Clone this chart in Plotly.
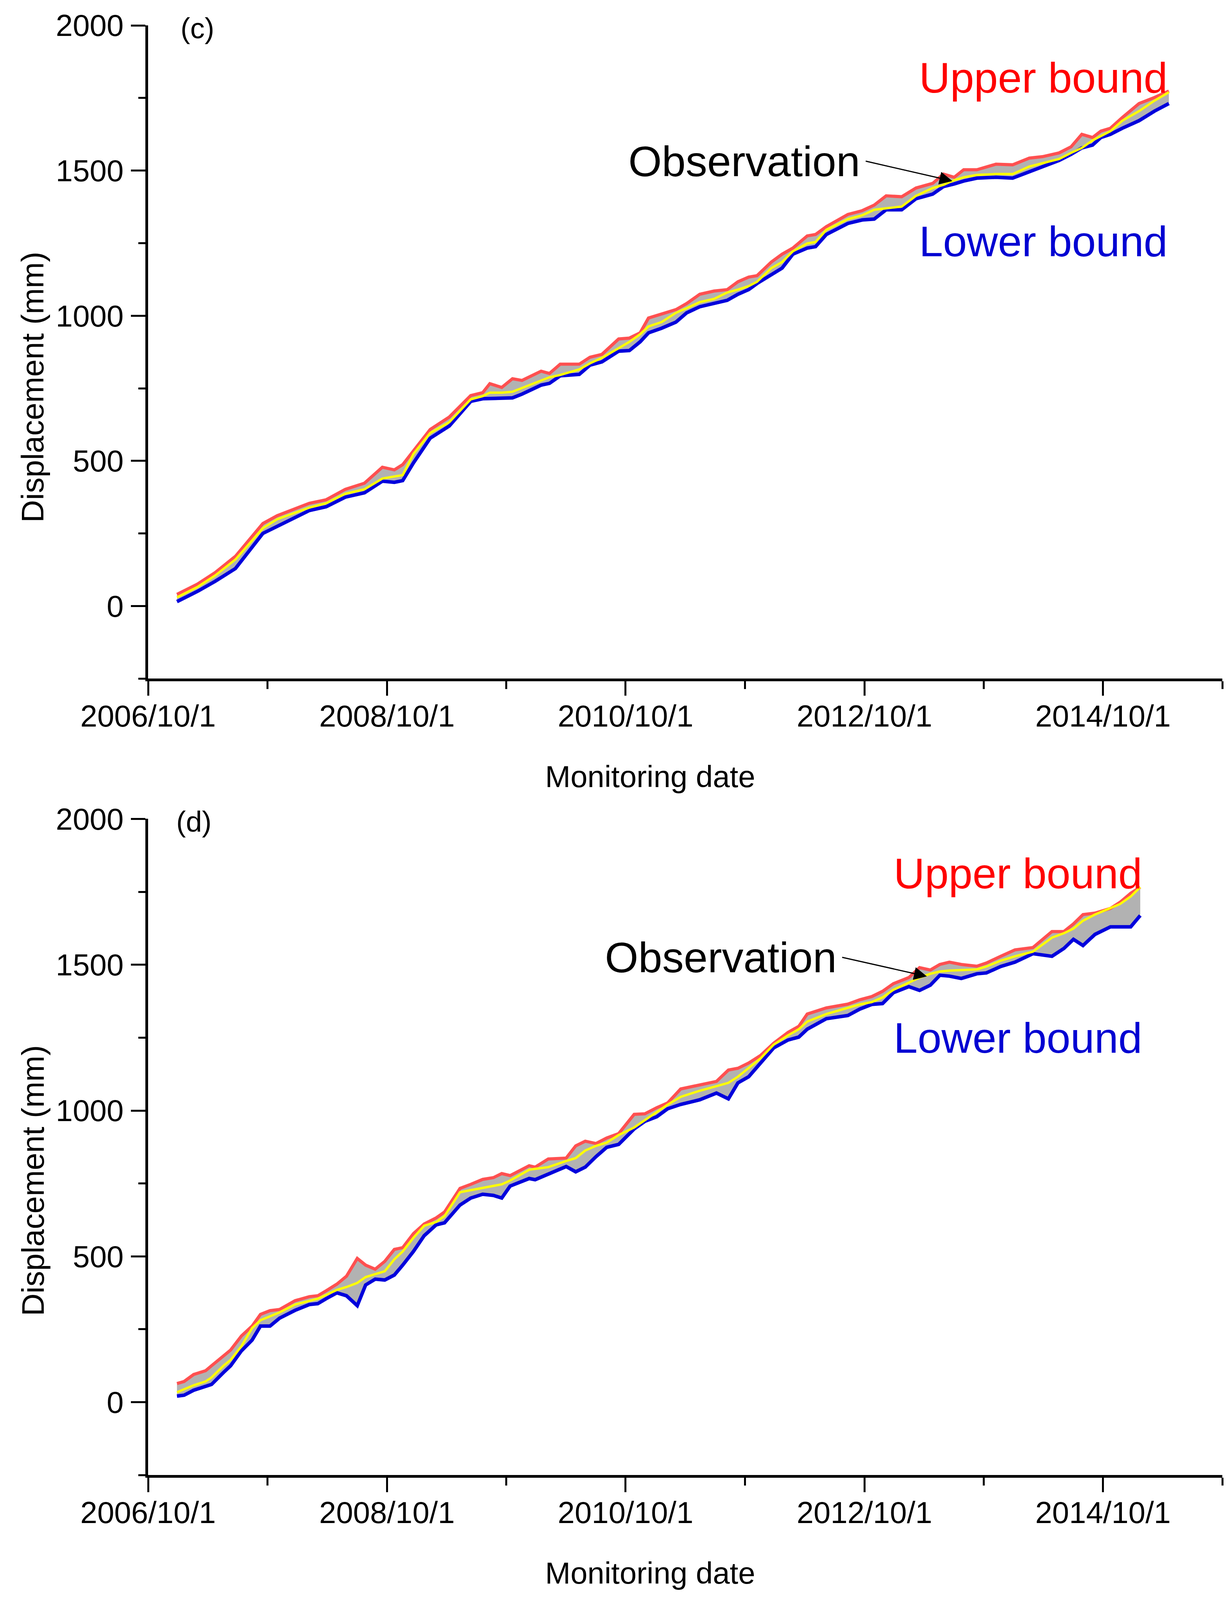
import pandas as pd
import plotly.graph_objects as go

# ---------------- data ----------------
# dates given as decimal years
dates_c = [2006.99, 2007.16, 2007.31, 2007.48, 2007.71, 2007.83, 2008.10, 2008.24, 2008.40, 2008.56,
           2008.71, 2008.81, 2008.88, 2008.97, 2009.11, 2009.27, 2009.45, 2009.55, 2009.61, 2009.71,
           2009.80, 2009.88, 2010.04, 2010.11, 2010.20, 2010.36, 2010.45, 2010.55, 2010.69, 2010.78,
           2010.87, 2010.94, 2011.05, 2011.17, 2011.26, 2011.37, 2011.49, 2011.60, 2011.69, 2011.78,
           2011.85, 2011.97, 2012.06, 2012.15, 2012.27, 2012.34, 2012.43, 2012.61, 2012.73, 2012.83,
           2012.93, 2013.06, 2013.18, 2013.32, 2013.41, 2013.50, 2013.58, 2013.69, 2013.85, 2013.99,
           2014.13, 2014.24, 2014.38, 2014.48, 2014.57, 2014.66, 2014.73, 2014.81, 2014.91, 2015.05,
           2015.18, 2015.30]
upper_c = [40, 75, 115, 171, 284, 311, 354, 366, 402, 423, 478, 469, 487, 536, 608, 651, 725, 735, 766, 753,
           783, 777, 809, 801, 833, 833, 857, 867, 920, 923, 941, 992, 1005, 1021, 1042, 1074, 1085, 1090, 1117, 1133,
           1138, 1185, 1212, 1233, 1275, 1280, 1307, 1349, 1362, 1381, 1413, 1410, 1440, 1456, 1488, 1477, 1503, 1503,
           1522, 1520, 1543, 1548, 1561, 1582, 1625, 1614, 1636, 1646, 1683, 1731, 1752, 1774]
obs_c = [30, 65, 105, 160, 268, 299, 339, 354, 387, 402, 439, 445, 451, 524, 596, 633, 712, 723, 735, 735,
         738, 751, 777, 788, 796, 815, 836, 855, 888, 910, 936, 963, 978, 1010, 1026, 1047, 1058, 1080, 1090, 1102,
         1117, 1164, 1185, 1222, 1249, 1254, 1296, 1333, 1346, 1365, 1370, 1376, 1413, 1440, 1451, 1467, 1477, 1485,
         1488, 1488, 1514, 1525, 1540, 1561, 1578, 1604, 1620, 1636, 1672, 1705, 1741, 1770]
lower_c = [15, 50, 85, 129, 250, 275, 329, 342, 375, 390, 430, 426, 432, 493, 578, 620, 705, 714, 714, 714,
           717, 730, 761, 767, 793, 798, 830, 841, 878, 880, 910, 941, 957, 978, 1010, 1031, 1042, 1053, 1074, 1090,
           1111, 1143, 1164, 1212, 1233, 1238, 1280, 1318, 1330, 1333, 1365, 1365, 1403, 1419, 1445, 1454, 1464, 1474,
           1477, 1474, 1496, 1514, 1535, 1556, 1578, 1588, 1614, 1625, 1646, 1672, 1705, 1731]

dates_d = [2006.99, 2007.05, 2007.13, 2007.23, 2007.28, 2007.38, 2007.44, 2007.53, 2007.62, 2007.69,
           2007.77, 2007.85, 2007.98, 2008.10, 2008.17, 2008.24, 2008.33, 2008.41, 2008.50, 2008.57,
           2008.65, 2008.73, 2008.81, 2008.88, 2008.97, 2009.06, 2009.16, 2009.23, 2009.36, 2009.45,
           2009.55, 2009.64, 2009.71, 2009.78, 2009.94, 2009.99, 2010.10, 2010.25, 2010.33, 2010.41,
           2010.50, 2010.59, 2010.69, 2010.82, 2010.91, 2011.01, 2011.10, 2011.21, 2011.37, 2011.51,
           2011.61, 2011.69, 2011.78, 2011.88, 2011.99, 2012.11, 2012.20, 2012.27, 2012.43, 2012.61,
           2012.71, 2012.81, 2012.90, 2012.99, 2013.12, 2013.21, 2013.30, 2013.38, 2013.46, 2013.56,
           2013.69, 2013.77, 2013.89, 2014.01, 2014.16, 2014.32, 2014.42, 2014.50, 2014.58, 2014.68,
           2014.81, 2014.89, 2014.98, 2015.06]
upper_d = [64, 71, 95, 108, 125, 159, 179, 227, 261, 301, 314, 318, 348, 362, 365, 382, 405, 432, 493, 470,
           456, 483, 524, 530, 578, 611, 632, 652, 733, 747, 764, 770, 784, 777, 811, 806, 834, 837, 879, 895,
           887, 906, 921, 987, 989, 1010, 1026, 1074, 1087, 1100, 1139, 1145, 1163, 1189, 1231, 1268, 1289, 1331,
           1352, 1365, 1380, 1391, 1409, 1435, 1456, 1490, 1482, 1501, 1509, 1501, 1495, 1506, 1529, 1551, 1559,
           1614, 1614, 1640, 1672, 1677, 1693, 1714, 1745, 1766]
obs_d = [34, 44, 58, 71, 85, 125, 145, 192, 254, 281, 294, 308, 335, 348, 355, 368, 385, 395, 409, 429,
         439, 449, 490, 517, 564, 605, 618, 638, 720, 727, 733, 740, 747, 760, 797, 800, 806, 827, 837, 863,
         879, 890, 916, 942, 968, 995, 1020, 1047, 1068, 1084, 1095, 1116, 1147, 1179, 1226, 1258, 1279, 1305,
         1331, 1352, 1364, 1372, 1388, 1414, 1440, 1456, 1469, 1477, 1480, 1482, 1484, 1494, 1514, 1529, 1545,
         1593, 1608, 1624, 1651, 1672, 1693, 1708, 1734, 1766]
lower_d = [21, 24, 41, 55, 61, 102, 125, 176, 213, 261, 261, 288, 315, 335, 338, 355, 375, 365, 331, 402,
           422, 419, 436, 470, 517, 571, 608, 615, 676, 700, 713, 709, 700, 741, 767, 763, 782, 808, 790, 806,
           842, 874, 884, 937, 963, 979, 1006, 1021, 1037, 1060, 1040, 1095, 1116, 1163, 1215, 1242, 1252, 1279,
           1315, 1326, 1348, 1364, 1367, 1404, 1425, 1412, 1430, 1464, 1461, 1453, 1469, 1472, 1494, 1509, 1538,
           1529, 1556, 1587, 1566, 1604, 1630, 1630, 1630, 1669]

y_ticks = [0, 500, 1000, 1500, 2000]
x_range = ["2006-10-01", "2015-10-01"]
y_range = [-250, 2000]

# arrow (tail -> head) for the "Observation" label, in data coordinates
arrow_c = ("2012-10-03", 1533, "2013-06-27", 1464)
arrow_d = ("2012-07-23", 1526, "2013-04-10", 1460)

# ---------------- helpers ----------------
W, H = 3140, 4650
FONT = "Liberation Sans, Arial, sans-serif"


def to_dates(dec):
    out = []
    for d in dec:
        y = int(d)
        s = pd.Timestamp(year=y, month=1, day=1)
        e = pd.Timestamp(year=y + 1, month=1, day=1)
        out.append(s + (d - y) * (e - s))
    return out


def px(x):
    return x / W


def py(y):
    return 1 - y / H


fig = go.Figure()

panels = [
    ("x", "y", dates_c, upper_c, obs_c, lower_c),
    ("x2", "y2", dates_d, upper_d, obs_d, lower_d),
]
for xa, ya, dd, up, ob, lo in panels:
    t = to_dates(dd)
    fig.add_trace(go.Scatter(x=t, y=lo, xaxis=xa, yaxis=ya, mode="lines",
                             line=dict(width=0, color="rgba(0,0,0,0)"), showlegend=False, hoverinfo="skip"))
    fig.add_trace(go.Scatter(x=t, y=up, xaxis=xa, yaxis=ya, mode="lines", fill="tonexty",
                             fillcolor="rgb(178,178,178)",
                             line=dict(width=0, color="rgba(0,0,0,0)"), showlegend=False, hoverinfo="skip"))
    fig.add_trace(go.Scatter(x=t, y=up, xaxis=xa, yaxis=ya, mode="lines",
                             line=dict(width=8, color="rgb(255,80,80)"), name="Upper bound", showlegend=False))
    fig.add_trace(go.Scatter(x=t, y=lo, xaxis=xa, yaxis=ya, mode="lines",
                             line=dict(width=9, color="rgb(0,0,220)"), name="Lower bound", showlegend=False))
    fig.add_trace(go.Scatter(x=t, y=ob, xaxis=xa, yaxis=ya, mode="lines",
                             line=dict(width=6, color="rgb(255,255,0)"), name="Observation", showlegend=False))

x_dom = [px(379), px(3128)]
top_dom = [py(1972), py(74)]
bot_dom = [py(4287), py(2380)]

xaxis_common = dict(
    type="date", range=x_range, tick0="2006-10-01", dtick="M24", tickformat="%Y/%m/%-d",
    showline=True, linecolor="black", linewidth=7, showgrid=False, zeroline=False,
    ticks="outside", ticklen=37, tickwidth=5, tickcolor="black", automargin=False,
    tickfont=dict(family=FONT, size=78, color="black"), ticklabelstandoff=-15,
    minor=dict(tick0="2006-10-01", dtick="M12", ticks="outside", ticklen=20, tickwidth=5,
               tickcolor="black", showgrid=False),
    domain=x_dom, fixedrange=True,
)
yaxis_common = dict(
    range=y_range, tickvals=y_ticks, showline=True, linecolor="black", linewidth=7,
    showgrid=False, zeroline=False, ticks="outside", ticklen=37, tickwidth=5, tickcolor="black",
    tickfont=dict(family=FONT, size=78, color="black"), ticklabelstandoff=3, automargin=False,
    minor=dict(tick0=250, dtick=500, ticks="outside", ticklen=18, tickwidth=5, tickcolor="black", showgrid=False),
    fixedrange=True,
)

fig.update_layout(
    width=W, height=H, autosize=False, paper_bgcolor="white", plot_bgcolor="white",
    margin=dict(l=0, r=0, t=0, b=0, pad=0, autoexpand=False), showlegend=False,
    font=dict(family=FONT, color="black"),
    xaxis=dict(xaxis_common, anchor="y"),
    yaxis=dict(yaxis_common, anchor="x", domain=top_dom),
    xaxis2=dict(xaxis_common, anchor="y2"),
    yaxis2=dict(yaxis_common, anchor="x2", domain=bot_dom),
)

ann = []


def text(t, x, y, size, color="black", xanchor="center", angle=0):
    ann.append(dict(text=t, x=px(x), y=py(y), xref="paper", yref="paper", showarrow=False,
                    xanchor=xanchor, yanchor="middle", textangle=angle,
                    font=dict(family=FONT, size=size, color=color)))


def arrow(spec, xa, ya):
    x0, y0, x1, y1 = spec
    ann.append(dict(text="", x=x1, y=y1, xref=xa, yref=ya, ax=x0, ay=y0, axref=xa, ayref=ya,
                    showarrow=True, arrowhead=2, arrowsize=2.2, arrowwidth=3, arrowcolor="black"))


for off, lab, ux, obs_r, spec, xa, ya in [
    (0, "(c)", 2990, 2203, arrow_c, "x", "y"),
    (2306, "(d)", 2925, 2143, arrow_d, "x2", "y2"),
]:
    text(lab, 505 if off == 0 else 496, 82 + off, 74)
    text("Displacement (mm)", 84, 1126 + off, 80, angle=-90)
    text("Monitoring date", 1664, 2257 + (4287 - 1972 if off else 0), 78)
    text("Upper bound", ux, (225 if off == 0 else 2538), 110, color="rgb(255,0,0)", xanchor="right")
    text("Lower bound", ux, (701 if off == 0 else 3016), 110, color="rgb(0,0,210)", xanchor="right")
    text("Observation", obs_r, (468 if off == 0 else 2782), 110, xanchor="right")
    arrow(spec, xa, ya)

fig.update_layout(annotations=ann)

# remove the page margin and, if the visible window is shorter than the figure,
# fit the figure height to it so that nothing is cut off
fit_js = """
(function(){
  document.body.style.margin = '0';
  document.body.style.overflow = 'hidden';
  var gd = document.getElementById('{plot_id}');
  var h = window.innerHeight;
  if (h && h > 1000 && h < %d) { Plotly.relayout(gd, {height: h}); }
})();
""" % H

fig.write_html("out.html", post_script=fit_js, config={"displayModeBar": False})
